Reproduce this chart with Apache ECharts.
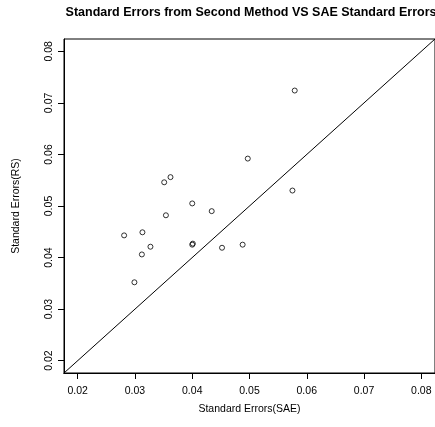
<!DOCTYPE html>
<html>
<head>
<meta charset="utf-8">
<script src="https://cdn.jsdelivr.net/npm/echarts@6/dist/echarts.min.js"></script>
<style>
html,body{margin:0;padding:0;background:#fff;}
#chart{width:435px;height:427px;}
</style>
</head>
<body>
<div id="chart"></div>
<script>
// Data
var seSAE = [0.0351, 0.0362, 0.0400, 0.0434, 0.0354, 0.0579, 0.0497, 0.0575, 0.0281, 0.0313, 0.0327, 0.0312, 0.0299, 0.0400, 0.0401, 0.0452, 0.0488];
var seRS  = [0.0546, 0.0556, 0.0505, 0.0490, 0.0482, 0.0724, 0.0592, 0.0530, 0.0443, 0.0449, 0.0421, 0.0406, 0.0352, 0.0425, 0.0427, 0.0419, 0.0425];
var tickValues = [0.02, 0.03, 0.04, 0.05, 0.06, 0.07, 0.08];
var tickLabels = ['0.02', '0.03', '0.04', '0.05', '0.06', '0.07', '0.08'];
var diagonalEnds = [0.0, 0.1];
var axisRange = [0.0176, 0.0824];

var FONT = "'Liberation Sans', Arial, Helvetica, sans-serif";
var chart = echarts.init(document.getElementById('chart'), null, {renderer: 'canvas'});

function labelFor(v) {
  for (var i = 0; i < tickValues.length; i++) {
    if (Math.abs(tickValues[i] - v) < 1e-9) return tickLabels[i];
  }
  return '';
}

var points = seSAE.map(function (x, i) { return [x, seRS[i]]; });
var diag = diagonalEnds.map(function (v) { return [v, v]; });

chart.setOption({
  animation: false,
  backgroundColor: '#ffffff',
  title: {
    text: 'Standard Errors from Second Method VS SAE Standard Errors',
    left: 251,
    top: 6,
    textAlign: 'center',
    padding: 0,
    textStyle: {fontFamily: FONT, fontSize: 12.5, fontWeight: 'bold', color: '#000'}
  },
  grid: {
    left: 64, top: 39, width: 374, height: 334,
    show: true, borderColor: '#000', borderWidth: 1, backgroundColor: 'transparent'
  },
  xAxis: {
    type: 'value',
    min: axisRange[0], max: axisRange[1],
    name: 'Standard Errors(SAE)',
    nameLocation: 'middle',
    nameGap: 31,
    nameTextStyle: {fontFamily: FONT, fontSize: 10.5, color: '#000'},
    axisLine: {show: true, onZero: false, lineStyle: {color: '#000', width: 1}},
    axisTick: {show: true, inside: false, length: 6, lineStyle: {color: '#000', width: 1}, customValues: tickValues},
    axisLabel: {show: true, margin: 13, fontFamily: FONT, fontSize: 10.5, color: '#000', customValues: tickValues, formatter: labelFor},
    splitLine: {show: false}
  },
  yAxis: {
    type: 'value',
    min: axisRange[0], max: axisRange[1],
    name: 'Standard Errors(RS)',
    nameLocation: 'middle',
    nameGap: 42,
    nameRotate: 90,
    nameTextStyle: {fontFamily: FONT, fontSize: 10.5, color: '#000'},
    axisLine: {show: true, onZero: false, lineStyle: {color: '#000', width: 1}},
    axisTick: {show: true, inside: false, length: 6, lineStyle: {color: '#000', width: 1}, customValues: tickValues},
    axisLabel: {show: true, margin: 9, rotate: 90, fontFamily: FONT, fontSize: 10.5, color: '#000', customValues: tickValues, formatter: labelFor},
    splitLine: {show: false}
  },
  series: [
    {
      type: 'line',
      data: diag,
      symbol: 'none',
      silent: true,
      clip: true,
      lineStyle: {color: '#000', width: 1}
    },
    {
      type: 'scatter',
      data: points,
      symbol: 'circle',
      symbolSize: 5,
      itemStyle: {color: 'rgba(0,0,0,0)', borderColor: '#000', borderWidth: 1}
    }
  ]
});
</script>
</body>
</html>
